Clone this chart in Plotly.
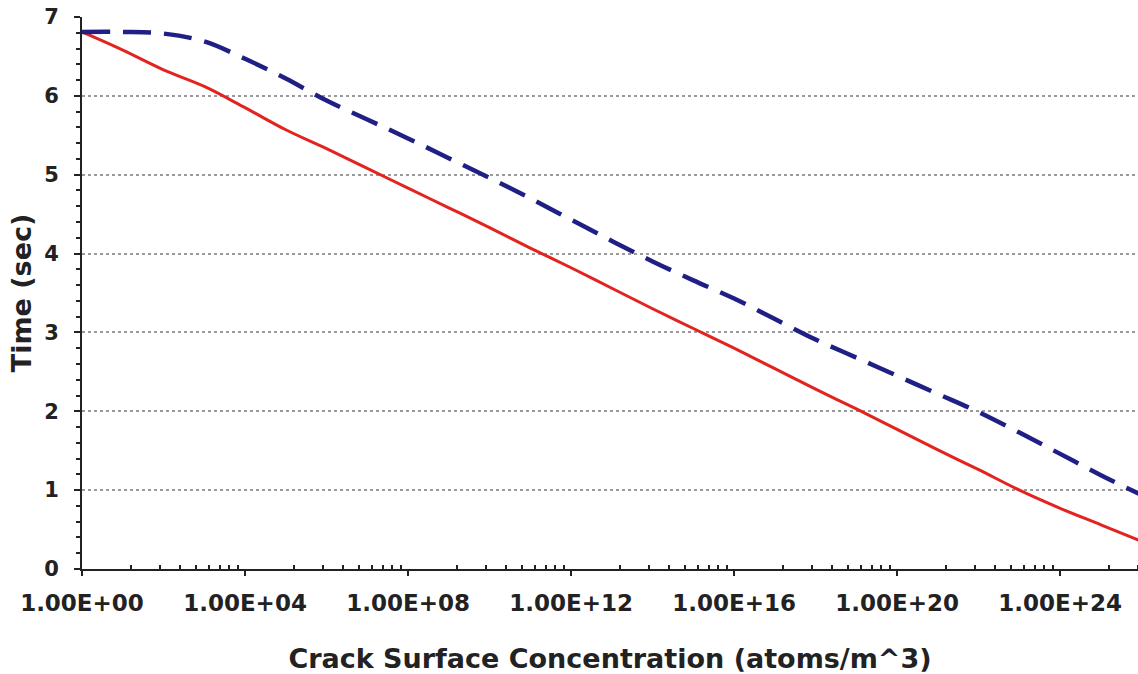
import plotly.graph_objects as go
import math

# Crack surface concentration (atoms/m^3)
conc = [1e0, 1e1, 1e2, 1e3, 1e4, 1e5, 1e6, 1e7, 1e8, 1e9, 1e10, 1e11, 1e12,
        1e13, 1e14, 1e15, 1e16, 1e17, 1e18, 1e19, 1e20, 1e21, 1e22, 1e23,
        1e24, 1e25, 8.9e25]

# Time (sec) - solid red series
time_red = [6.81, 6.58, 6.33, 6.12, 5.85, 5.57, 5.33, 5.08, 4.83, 4.58, 4.33,
            4.07, 3.82, 3.56, 3.30, 3.05, 2.80, 2.54, 2.28, 2.03, 1.77, 1.51,
            1.26, 1.00, 0.77, 0.56, 0.36]

# Time (sec) - dashed blue series
time_blue = [6.81, 6.81, 6.79, 6.69, 6.47, 6.22, 5.94, 5.70, 5.46, 5.21, 4.96,
             4.70, 4.43, 4.16, 3.90, 3.66, 3.43, 3.17, 2.91, 2.68, 2.45, 2.22,
             1.99, 1.73, 1.46, 1.19, 0.95]

x_tick_vals = [1e0, 1e4, 1e8, 1e12, 1e16, 1e20, 1e24]
x_tick_text = ["1.00E+00", "1.00E+04", "1.00E+08", "1.00E+12",
               "1.00E+16", "1.00E+20", "1.00E+24"]
minor_mult = [2, 3, 4, 5, 6, 7, 8, 9]
major_exp = [0, 4, 8, 12, 16, 20, 24]

# minor ticks: Excel-style log base 10^4 minor spacing
minor_vals = []
for e in major_exp:
    for k in minor_mult:
        minor_vals.append(10 ** (e + 4 * math.log10(k)))

fig = go.Figure()
fig.add_trace(go.Scatter(x=conc, y=time_red, mode="lines",
                         line=dict(color="#e2231f", width=3, shape="spline"),
                         showlegend=False))
fig.add_trace(go.Scatter(x=conc, y=time_blue, mode="lines",
                         line=dict(color="#1f1f86", width=4.5, dash="28px,13px",
                                   shape="spline"),
                         showlegend=False))

font_family = "DejaVu Sans, Verdana, sans-serif"
ink = "#222222"

fig.update_layout(
    width=1138, height=674,
    margin=dict(l=82, r=0, t=17, b=105),
    paper_bgcolor="white", plot_bgcolor="white",
    font=dict(family=font_family, color=ink),
    xaxis=dict(
        type="log", range=[0, 25.91],
        tickmode="array", tickvals=x_tick_vals, ticktext=x_tick_text,
        tickfont=dict(size=23, family="DejaVu Sans", weight="bold", color=ink),
        ticks="outside", ticklen=5, tickwidth=2, tickcolor=ink,
        ticklabelstandoff=7,
        showline=True, linecolor=ink, linewidth=2,
        showgrid=False, zeroline=False,
        minor=dict(tickmode="array", tickvals=minor_vals, ticks="inside",
                   ticklen=4, tickwidth=1.5, tickcolor=ink, showgrid=False),
        title=dict(text="Crack Surface Concentration (atoms/m^3)",
                   font=dict(size=27, family="DejaVu Sans", weight="bold", color=ink),
                   standoff=36),
    ),
    yaxis=dict(
        range=[0, 7], tickmode="linear", tick0=0, dtick=1,
        tickfont=dict(size=21, family="DejaVu Sans", weight="bold", color=ink),
        ticks="outside", ticklen=6, tickwidth=2, tickcolor=ink,
        ticklabelstandoff=11,
        showline=True, linecolor=ink, linewidth=2,
        showgrid=True, gridcolor="#9a9a9a", griddash="dot", gridwidth=1.5,
        zeroline=False,
        minor=dict(dtick=0.2, ticks="outside", ticklen=4, tickwidth=1.5,
                   tickcolor=ink, showgrid=False),
        title=dict(text="Time (sec)",
                   font=dict(size=27, family="DejaVu Sans", weight="bold", color=ink),
                   standoff=5),
    ),
)

fig.write_html("out.html")
